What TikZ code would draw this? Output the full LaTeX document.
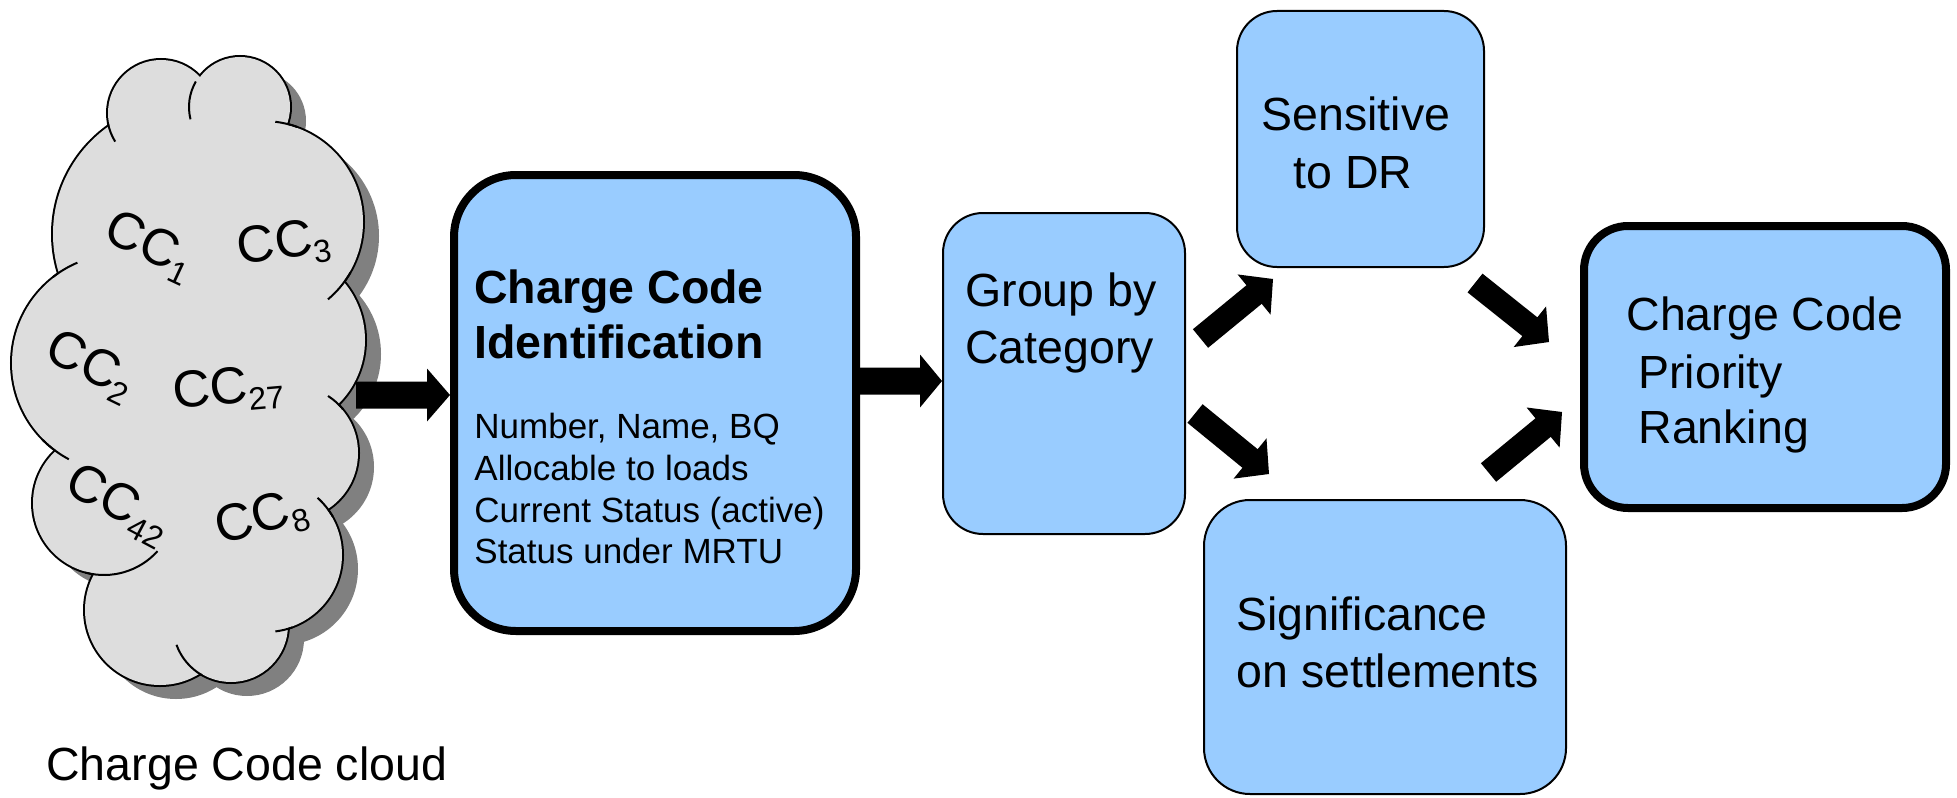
\documentclass[tikz,border=0pt]{standalone}
\usepackage{fontspec}
\setmainfont{Liberation Sans}
\usetikzlibrary{calc}
\definecolor{boxblue}{HTML}{99CCFF}
\definecolor{cloudgray}{HTML}{DDDDDD}
\definecolor{shadowgray}{HTML}{808080}
\newcommand\ccsub[1]{\raisebox{-4.5pt}{\fontsize{16pt}{18pt}\selectfont #1}}
% tail, tip, shaft half width, head half width, head length
\newcommand\blockarrow[5]{%
  \coordinate (bahead) at ($(#2)!#5!(#1)$);
  \fill[black] ($(#1)!#3!90:(#2)$) -- ($(bahead)!#3!90:(#2)$) -- ($(bahead)!#4!90:(#2)$) -- (#2)
    -- ($(bahead)!#4!-90:(#2)$) -- ($(bahead)!#3!-90:(#2)$) -- ($(#1)!#3!-90:(#2)$) -- cycle;}
\tikzset{
  box/.style={draw=black, fill=boxblue, inner sep=0pt},
  thickbox/.style={box, line width=4pt},
  thinbox/.style={box, line width=1pt},
  lbl/.style={inner sep=0pt, anchor=base west, font=\fontsize{23.25pt}{28pt}\selectfont},
  lblc/.style={lbl, anchor=base},
  titlelbl/.style={lbl, font=\fontsize{23.25pt}{28pt}\selectfont\bfseries},
  item/.style={inner sep=0pt, anchor=base west, font=\fontsize{17.5pt}{21pt}\selectfont},
  cc/.style={inner sep=0pt, font=\fontsize{26pt}{30pt}\selectfont},
}
\begin{document}
\begin{tikzpicture}[x=0.5pt,y=-0.5pt]
\useasboundingbox (0,0) rectangle (1957,797);
% ---------- cloud ----------
\def\bumps{161/113/26.5pt, 240/107/25pt, 263/222/50pt, 275/340/45pt, 291/453/33.5pt, 266/555/38pt, 231/625/28.5pt, 160/610/37.5pt, 104/503/35.5pt, 120/363/54pt, 185/234/66pt}
\foreach \cx/\cy/\r in \bumps {\fill[shadowgray] (\cx+16,\cy+14) circle[radius=\r];}
\foreach \cx/\cy/\r in \bumps {\draw[line width=2pt] (\cx,\cy) circle[radius=\r];}
\foreach \cx/\cy/\r in \bumps {\fill[cloudgray] (\cx,\cy) circle[radius=\r];}
\fill[cloudgray] (200,400) circle[radius=67.5pt];
\fill[cloudgray] (190,530) circle[radius=25pt];
\foreach \cx/\cy/\r/\a/\b in {161/113/27pt/-170/-148, 240/107/25.5pt/-210/-166,
  263/222/50.5pt/-277/-290, 263/222/50.5pt/-30/-50, 291/453/34pt/-303/-320,
  266/555/38.5pt/-312/-330, 266/555/38.5pt/-70/-83, 231/625/29pt/-120/-160,
  104/503/36pt/-105/-42, 120/363/54.5pt/-135/-118, 120/363/54.5pt/-232/-247}
  {\draw[line width=1pt] ([shift={(\a:\r)}]\cx,\cy) arc[start angle=\a, end angle=\b, radius=\r];}
\node[cc, rotate=-25] (cc1) at (149,247) {CC\ccsub{1}};
\node[cc, rotate=8] (cc3) at (284,245) {CC\ccsub{3}};
\node[cc, rotate=-26] (cc2) at (90,367) {CC\ccsub{2}};
\node[cc, rotate=5] (cc27) at (228,390) {CC\ccsub{27}};
\node[cc, rotate=-28] (cc42) at (118,505) {CC\ccsub{42}};
\node[cc, rotate=15] (cc8) at (262,519) {CC\ccsub{8}};
\node[lbl] (cloudlbl) at (46,780) {Charge Code cloud};
% ---------- boxes ----------
\node[thickbox, rounded corners=31pt, minimum width=201pt, minimum height=228pt] (cci) at (655,403) {};
\node[thinbox, rounded corners=20pt, minimum width=121pt, minimum height=160.5pt] (grp) at (1064,373.5) {};
\node[thinbox, rounded corners=20pt, minimum width=123.5pt, minimum height=128pt] (dr) at (1360.5,139) {};
\node[thinbox, rounded corners=23pt, minimum width=181pt, minimum height=147pt] (sig) at (1385,647) {};
\node[thickbox, rounded corners=22pt, minimum width=181pt, minimum height=141pt] (rank) at (1765,367) {};
% ---------- texts ----------
\node[titlelbl] (cci1) at (474,303) {Charge Code};
\node[titlelbl] (cci2) at (474,358) {Identification};
\node[item] (it1) at (474,438) {Number, Name, BQ};
\node[item] (it2) at (474,480) {Allocable to loads};
\node[item] (it3) at (474,522) {Current Status (active)};
\node[item] (it4) at (474,563) {Status under MRTU};
\node[lbl] (grp1) at (965,306) {Group by};
\node[lbl] (grp2) at (965,363) {Category};
\node[lblc] (dr1) at (1356,131) {Sensitive};
\node[lblc] (dr2) at (1353,188) {to DR};
\node[lbl] (sig1) at (1236,630) {Significance};
\node[lbl] (sig2) at (1236,687) {on settlements};
\node[lbl] (rank1) at (1626,330) {Charge Code};
\node[lbl] (rank2) at (1638,388) {Priority};
\node[lbl] (rank3) at (1638,443) {Ranking};
% ---------- arrows ----------
\coordinate (a1s) at (356,395);   \coordinate (a1e) at (450,395);
\coordinate (a2s) at (858,381);   \coordinate (a2e) at (942,381);
\coordinate (gas) at (1200.5,338.5); \coordinate (gae) at (1273,279);
\coordinate (gbs) at (1195,413.5);  \coordinate (gbe) at (1269,474);
\coordinate (rcs) at (1475,283);    \coordinate (rce) at (1549,342);
\coordinate (rds) at (1488.5,472.5); \coordinate (rde) at (1562,412);
\blockarrow{a1s}{a1e}{6.75pt}{13.25pt}{11.5pt}
\blockarrow{a2s}{a2e}{6.75pt}{13.25pt}{11pt}
\blockarrow{gas}{gae}{6pt}{13pt}{12.25pt}
\blockarrow{gbs}{gbe}{6pt}{13pt}{12.25pt}
\blockarrow{rcs}{rce}{6pt}{13pt}{12.25pt}
\blockarrow{rds}{rde}{6pt}{13pt}{12.25pt}
\end{tikzpicture}
\end{document}
